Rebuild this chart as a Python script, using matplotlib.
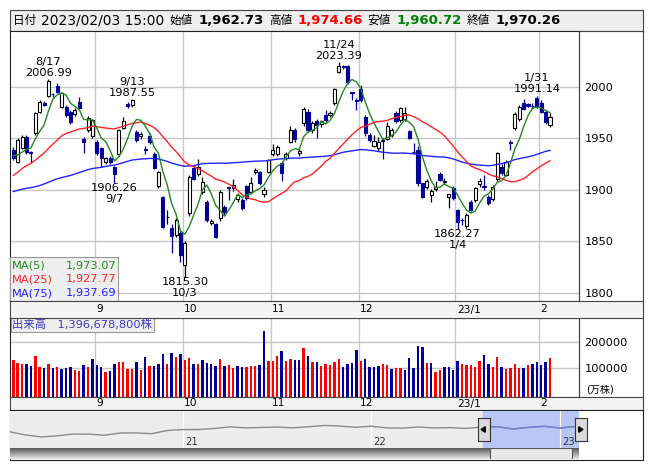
import numpy as np
import matplotlib
matplotlib.use("Agg")
import matplotlib.pyplot as plt
from matplotlib.patches import Rectangle

plt.rcParams['font.family'] = ['DejaVu Sans', 'Noto Sans CJK JP']

# ---------------- data (TOPIX daily, 2022/08/04 - 2023/02/03) ----------------
opens = [1938.5, 1927.2, 1940.1, 1950.7, 1936.8, 1954.6, 1975.6, 1984.0, 1991.0, 1993.0,
         2000.4, 1980.5, 1980.5, 1975.6, 1973.4, 1985.3, 1948.8, 1957.9, 1952.0, 1946.5,
         1940.0, 1927.2, 1930.4, 1921.7, 1934.2, 1960.1, 1983.0, 1982.0, 1956.2, 1952.0,
         1939.0, 1952.0, 1934.2, 1903.6, 1893.2, 1873.5, 1862.5, 1856.1, 1857.7, 1827.0,
         1877.1, 1921.3, 1914.9, 1898.0, 1888.4, 1867.4, 1866.7, 1872.9, 1883.5, 1902.3,
         1901.3, 1891.0, 1890.0, 1903.6, 1898.0, 1916.8, 1916.8, 1895.5, 1917.4, 1934.6,
         1934.5, 1926.2, 1931.0, 1946.5, 1957.8, 1935.2, 1964.3, 1975.6, 1957.8, 1966.8,
         1963.6, 1972.4, 1972.4, 1983.7, 2014.4, 2019.9, 2019.9, 1994.4, 1987.0, 1997.3,
         1970.4, 1953.3, 1942.8, 1940.1, 1948.5, 1949.0, 1953.0, 1974.0, 1967.5, 1968.5,
         1956.9, 1937.0, 1938.4, 1906.1, 1903.0, 1894.7, 1900.6, 1915.2, 1907.1, 1893.2,
         1902.0, 1880.3, 1870.6, 1865.1, 1888.4, 1890.0, 1905.2, 1903.0, 1893.2, 1891.0,
         1910.3, 1922.3, 1914.2, 1945.6, 1959.4, 1968.5, 1983.7, 1982.7, 1981.6, 1988.5,
         1984.3, 1975.6, 1962.73]
highs = [1941.0, 1950.0, 1953.0, 1953.0, 1938.0, 1975.0, 1987.0, 1986.0, 2006.99, 1994.0,
         2003.7, 1995.0, 1982.0, 1977.0, 1979.0, 1990.0, 1951.0, 1971.0, 1969.0, 1948.0,
         1941.0, 1932.0, 1933.0, 1923.0, 1959.0, 1970.7, 1985.0, 1987.55, 1958.0, 1956.0,
         1942.0, 1955.0, 1937.0, 1918.0, 1894.0, 1880.0, 1867.0, 1873.0, 1860.0, 1850.0,
         1914.0, 1923.0, 1929.7, 1912.0, 1890.0, 1872.0, 1868.0, 1900.0, 1885.0, 1903.0,
         1910.3, 1897.0, 1892.0, 1905.0, 1912.6, 1921.0, 1918.0, 1903.0, 1930.0, 1944.0,
         1943.0, 1928.0, 1936.5, 1961.7, 1960.0, 1940.0, 1980.0, 1978.0, 1967.0, 1969.0,
         1968.0, 1977.0, 1976.0, 1999.0, 2023.39, 2021.0, 2021.0, 1995.0, 1989.0, 2001.5,
         1972.0, 1955.0, 1953.0, 1951.0, 1950.0, 1966.0, 1960.0, 1976.0, 1980.0, 1980.4,
         1958.0, 1944.9, 1942.0, 1907.0, 1910.0, 1901.0, 1908.0, 1917.0, 1911.0, 1896.0,
         1904.0, 1881.0, 1873.0, 1877.0, 1890.0, 1903.0, 1911.6, 1914.2, 1895.0, 1905.0,
         1937.0, 1925.0, 1929.0, 1948.0, 1975.0, 1982.0, 1987.9, 1984.0, 1984.0, 1991.14,
         1987.0, 1977.0, 1974.66]
lows = [1929.0, 1926.0, 1939.0, 1935.0, 1925.5, 1953.0, 1974.0, 1981.0, 1990.0, 1990.0,
        1994.0, 1979.0, 1970.0, 1964.0, 1971.0, 1977.0, 1935.9, 1956.0, 1950.0, 1934.0,
        1922.3, 1925.0, 1925.0, 1906.26, 1933.0, 1959.0, 1979.0, 1980.0, 1945.9, 1949.0,
        1935.0, 1944.0, 1920.0, 1902.0, 1863.0, 1867.0, 1838.3, 1854.0, 1830.0, 1815.30,
        1875.0, 1909.0, 1913.0, 1896.0, 1869.0, 1866.0, 1853.0, 1870.0, 1876.0, 1890.0,
        1899.0, 1888.0, 1880.0, 1890.0, 1896.0, 1915.0, 1905.0, 1893.2, 1916.0, 1933.0,
        1933.0, 1908.7, 1929.0, 1945.0, 1946.0, 1933.0, 1962.0, 1956.0, 1955.0, 1949.7,
        1961.0, 1965.0, 1970.0, 1982.0, 2013.0, 2017.0, 2002.0, 1987.0, 1977.0, 1985.0,
        1952.0, 1945.9, 1941.0, 1938.0, 1929.7, 1948.0, 1951.0, 1965.0, 1966.0, 1967.0,
        1949.0, 1935.0, 1904.0, 1891.6, 1901.0, 1888.4, 1899.0, 1908.0, 1906.0, 1882.0,
        1890.0, 1862.27, 1866.0, 1863.0, 1879.0, 1888.0, 1903.0, 1899.7, 1885.0, 1889.0,
        1908.0, 1914.0, 1913.0, 1938.4, 1958.0, 1967.0, 1977.0, 1980.0, 1979.5, 1979.0,
        1974.0, 1964.0, 1960.72]
closes = [1930.4, 1948.2, 1951.4, 1936.8, 1935.2, 1974.0, 1985.3, 1982.5, 2005.0, 1992.5,
          1995.0, 1993.4, 1972.4, 1966.0, 1977.3, 1978.8, 1946.6, 1969.2, 1967.5, 1935.9,
          1930.4, 1930.4, 1927.2, 1915.2, 1957.8, 1966.5, 1981.4, 1986.9, 1948.1, 1953.6,
          1938.4, 1945.9, 1921.3, 1917.5, 1864.2, 1874.0, 1855.4, 1870.6, 1836.7, 1848.0,
          1912.0, 1910.0, 1922.3, 1907.8, 1870.6, 1870.0, 1854.5, 1898.0, 1878.7, 1901.3,
          1904.5, 1895.0, 1882.0, 1891.6, 1907.0, 1919.0, 1906.1, 1899.7, 1928.8, 1938.4,
          1941.6, 1915.8, 1934.5, 1957.8, 1948.8, 1937.8, 1978.2, 1957.8, 1964.9, 1962.6,
          1966.8, 1967.2, 1974.7, 1997.3, 2019.9, 2018.6, 2004.7, 1993.6, 1986.0, 1986.9,
          1954.6, 1948.1, 1947.5, 1946.5, 1947.0, 1962.0, 1958.0, 1966.5, 1978.8, 1974.0,
          1950.4, 1936.5, 1906.1, 1893.2, 1908.4, 1898.7, 1903.0, 1909.4, 1908.8, 1895.5,
          1891.6, 1869.0, 1870.4, 1875.5, 1880.3, 1901.3, 1908.4, 1902.9, 1886.8, 1903.0,
          1935.2, 1915.8, 1927.1, 1945.5, 1973.0, 1980.4, 1978.2, 1981.4, 1981.0, 1980.4,
          1975.6, 1966.0, 1970.26]
# closes of the 74 sessions before the window (2022/04/15 - 08/03), for the moving averages
prior_closes = [1867, 1860, 1873, 1895, 1901, 1898, 1871, 1876, 1858, 1877,
                1904, 1903, 1885, 1874, 1867, 1843, 1869, 1881, 1893, 1890,
                1863, 1870, 1881, 1869, 1876, 1882, 1893, 1914, 1917,
                1922, 1916, 1937, 1940, 1951, 1966, 1975, 1963, 1923, 1901,
                1888, 1893, 1840, 1843, 1856, 1858, 1860, 1875, 1890, 1899,
                1875, 1876,
                1859, 1866, 1881, 1898, 1892, 1901, 1892, 1888, 1893, 1899,
                1912, 1930, 1940, 1943, 1937, 1942, 1937, 1946, 1951, 1945,
                1938, 1923, 1929]
# volume (万株)
volume = [129000, 120000, 113000, 113000, 105000, 145000, 101000, 99000, 113000, 97000,
          101000, 93000, 97000, 101000, 90000, 85000, 109000, 101000, 134000, 109000,
          101000, 82000, 85000, 113000, 121000, 121000, 93000, 93000, 121000, 90000,
          141000, 105000, 105000, 113000, 153000, 113000, 157000, 141000, 153000, 129000,
          137000, 113000, 113000, 129000, 119000, 113000, 105000, 134000, 105000, 109000,
          97000, 105000, 101000, 101000, 105000, 105000, 109000, 246600, 126700, 126700,
          145300, 165300, 126700, 133300, 129300, 129300, 177300, 145300, 122700, 122700,
          106700, 114700, 110000, 122700, 133300, 101300, 113300, 117300, 169300, 125300,
          133300, 104000, 101300, 106700, 113300, 110000, 93300, 97300, 97300, 89300,
          137300, 97300, 185300, 180000, 117300, 117300, 81300, 89300, 104000, 101300,
          89300, 125300, 113300, 109300, 109300, 104000, 125300, 149300, 113300, 104000,
          141300, 104000, 93300, 97300, 113300, 97300, 97300, 109300, 113300, 121300,
          109300, 121300, 139667.88]
month_first = [19, 39, 59, 79, 101, 120]
month_labels = ['9', '10', '11', '12', '23/1', '2']
marks = [(8, 'high', '8/17'), (27, 'high', '9/13'), (23, 'low', '9/7'), (39, 'low', '10/3'),
         (74, 'high', '11/24'), (101, 'low', '1/4'), (119, 'high', '1/31')]
ma_last = [1973.07, 1927.77, 1937.69]
last_stamp = '2023/02/03 15:00'
# navigator: TOPIX month-end levels 2020/01 - 2023/01, plus 2023/02/03
nav_vals = [1684, 1510, 1403, 1464, 1563, 1558, 1496, 1618, 1625, 1579, 1754, 1805,
            1808, 1864, 1954, 1898, 1922, 1943, 1901, 1960, 2030, 2001, 1928, 1992,
            1895, 1886, 1946, 1899, 1912, 1870, 1940, 1963, 1835, 1929, 1985, 1892,
            1975, 1970]
nav_month = list(range(-11, 26)) + [25.1]   # months from 2021/01/01
nav_years = ['21', '22', '23']
sel_from = 19.1                               # 2022/08/04 in the same units

W, H = 653, 470
def box(x0, y0, x1, y1):
    return [x0 / W, 1 - y1 / H, (x1 - x0) / W, (y1 - y0) / H]

DOWN = '#000099'
GRID = '#c8c8c8'
FS = 8.2

n = len(closes)
idx = np.arange(n)
allc = np.array(prior_closes + closes, dtype=float)
def sma(k):
    s = np.convolve(allc, np.ones(k) / k, mode='valid')
    return s[-n:]
ma5, ma25, ma75 = sma(5), sma(25), sma(75)
prev = np.concatenate([[prior_closes[-1]], closes[:-1]])
vol_col = ['#ff0000' if c >= p else DOWN for c, p in zip(closes, prev)]

fig = plt.figure(figsize=(6.53, 4.70), dpi=100)
rend = fig.canvas.get_renderer()

# header bar
hdr = fig.add_axes(box(10, 10, 643, 31))
hdr.set_facecolor('#eeeeee')
hdr.set_xticks([]); hdr.set_yticks([])
for s in hdr.spines.values():
    s.set_color('#444444')
hy = 1 - 20.5 / H
hdr_items = [('日付', 'k', 'black'), (last_stamp, 'n', 'black'),
             ('始値', 'k', 'black'), (f'{opens[-1]:,.2f}', 'b', 'black'),
             ('高値', 'k', 'black'), (f'{highs[-1]:,.2f}', 'b', '#ff0000'),
             ('安値', 'k', 'black'), (f'{lows[-1]:,.2f}', 'b', '#008000'),
             ('終値', 'k', 'black'), (f'{closes[-1]:,.2f}', 'b', 'black')]
xp = 13
for s, kind, c in hdr_items:
    if kind == 'k':
        t = fig.text(xp / W, hy, s, fontsize=8.4, family=['Noto Sans CJK JP'], color=c, va='center')
    elif kind == 'n':
        t = fig.text(xp / W, hy, s, fontsize=9.9, color=c, va='center')
    else:
        t = fig.text(xp / W, hy, s, fontsize=9.5, fontweight='bold', color=c, va='center')
    xp = t.get_window_extent(renderer=rend).x1 + 5.2

# ---------------- price panel ----------------
ax = fig.add_axes(box(10, 31, 579, 301))
xl = (-0.75, 128.6)
ax.set_xlim(*xl)
ax.set_ylim(1792.2, 2053.8)
for b in month_first:
    ax.axvline(b - 0.5, color=GRID, lw=1, zorder=0)
for yv in [1800, 1850, 1900, 1950, 2000]:
    ax.axhline(yv, color=GRID, lw=1, zorder=0)
ax.set_xticks([])
ax.yaxis.tick_right()
ax.set_yticks([1800, 1850, 1900, 1950, 2000])
ax.tick_params(axis='y', length=0, pad=4, labelsize=FS)
for s in ax.spines.values():
    s.set_color('#222222')

o, h, l, c = map(np.array, (opens, highs, lows, closes))
up = c >= o
ax.vlines(idx[up], l[up], h[up], color='black', lw=0.9, zorder=2)
ax.vlines(idx[~up], l[~up], h[~up], color=DOWN, lw=0.9, zorder=2)
body_lo = np.minimum(o, c)
body_h = np.maximum(np.abs(c - o), 0.3)
ax.bar(idx[up], body_h[up], 0.7, bottom=body_lo[up], facecolor='white',
       edgecolor='black', lw=0.8, zorder=3)
ax.bar(idx[~up], body_h[~up], 0.7, bottom=body_lo[~up], facecolor=DOWN,
       edgecolor=DOWN, lw=0.8, zorder=3)

ax.plot(idx, ma75, color='#2222ff', lw=1, zorder=4)
ax.plot(idx, ma25, color='#ff2222', lw=1, zorder=4)
ax.plot(idx, ma5, color='#228822', lw=1, zorder=4)

for i, kind, d in marks:
    if kind == 'high':
        ax.annotate(f'{d}\n{highs[i]:.2f}', (i, highs[i]), xytext=(0, 1), textcoords='offset points',
                    ha='center', va='bottom', fontsize=FS, linespacing=1.15, zorder=6)
    else:
        ax.annotate(f'{lows[i]:.2f}\n{d}', (i, lows[i]), xytext=(0, 0), textcoords='offset points',
                    ha='center', va='top', fontsize=FS, linespacing=1.15, zorder=6)

# MA legend box
leg = fig.add_axes(box(10, 257, 118, 301))
leg.set_facecolor('#eeeeee')
leg.set_xticks([]); leg.set_yticks([])
leg.set_xlim(0, 1); leg.set_ylim(0, 1)
for s in leg.spines.values():
    s.set_color('#999999')
for k, (name, col) in enumerate([('MA(5)', '#228822'), ('MA(25)', '#ff2222'), ('MA(75)', '#2222ff')]):
    yy = 0.80 - k * 0.31
    leg.text(0.02, yy, name, color=col, fontsize=FS, va='center', ha='left')
    leg.text(0.985, yy, f'{ma_last[k]:,.2f}', color=col, fontsize=FS, va='center', ha='right')

# month label bands (full width 10..643, same day scale as the panels)
band_right = xl[0] + (643 - 10) / (579 - 10) * (xl[1] - xl[0])
def month_band(y0, y1):
    bx = fig.add_axes(box(10, y0, 643, y1))
    bx.set_xlim(xl[0], band_right); bx.set_ylim(0, 1)
    bx.set_xticks([]); bx.set_yticks([])
    bx.set_facecolor('#f4f4f4')
    for s in bx.spines.values():
        s.set_color('#444444')
    for b, lab in zip(month_first, month_labels):
        bx.text(b - 0.2, 0.5, lab, fontsize=FS - 0.5, ha='left', va='center')
    return bx

# ---------------- volume panel ----------------
vmin, vmax = -17300, 297300
vx = fig.add_axes(box(10, 318, 579, 397))
vx.set_xlim(*xl)
vx.set_ylim(vmin, vmax)
for b in month_first:
    vx.axvline(b - 0.5, color=GRID, lw=1, zorder=0)
for yv in [100000, 200000]:
    vx.axhline(yv, color=GRID, lw=1, zorder=0)
vx.bar(idx, np.array(volume) - vmin, 0.55, bottom=vmin, color=vol_col, zorder=2)
vx.set_xticks([])
vx.yaxis.tick_right()
vx.set_yticks([100000, 200000])
vx.tick_params(axis='y', length=0, pad=4, labelsize=FS)
for s in vx.spines.values():
    s.set_color('#222222')
vx.text(1.012, 0.09, '(万株)', transform=vx.transAxes, fontsize=7.2, ha='left', va='center')
vx.text(0.004, 0.985, f'出来高　{int(round(volume[-1] * 10000)):,}株', transform=vx.transAxes,
        fontsize=FS, color='#3b3bb5', ha='left', va='top',
        bbox=dict(boxstyle='square,pad=0.15', fc='#eeeeee', ec='#999999', lw=0.8), zorder=6)

# right frame around label columns
frame = fig.add_axes(box(579, 31, 643, 410))
frame.set_xticks([]); frame.set_yticks([])
frame.patch.set_alpha(0)
for s in frame.spines.values():
    s.set_color('#444444')

month_band(301, 318)
month_band(397, 410)

# ---------------- navigator ----------------
nv = fig.add_axes(box(10, 410, 643, 460))
nv.set_xticks([]); nv.set_yticks([])
nv.set_facecolor('white')
for s in nv.spines.values():
    s.set_color('#222222')
nl = fig.add_axes(box(10, 411, 579, 448))
nl.set_xticks([]); nl.set_yticks([])
for s in nl.spines.values():
    s.set_visible(False)
nl.set_facecolor('#ececec')
nl.set_xlim(-11.0, 25.22)
nl.set_ylim(800, 2820)
nl.axvspan(sel_from, 25.22, color='#b8c6f5', zorder=0)
nm = np.array(nav_month)
nl.plot(nm, nav_vals, color='#8a8a8a', lw=1, zorder=2)
sel = nm >= sel_from - 0.9
nl.plot(nm[sel], np.array(nav_vals)[sel], color='#6f7fd6', lw=1, zorder=3)
for k, lab in enumerate(nav_years):
    nl.axvline(12 * k, color='white', lw=0.8, zorder=1)
    nl.text(12 * k + 0.15, 870, lab, fontsize=7.2, ha='left', va='bottom', color='#333333')
# scrollbar
sb = fig.add_axes(box(10, 448, 579, 459))
sb.set_xlim(0, 1); sb.set_ylim(0, 1)
sb.axis('off')
grad = np.linspace(0.35, 0.9, 20).reshape(-1, 1)
sb.imshow(grad, extent=(0, 1, 0, 1), aspect='auto', cmap='gray', vmin=0, vmax=1)
sb.add_patch(Rectangle((0.8436, 0.0), 0.144, 1, facecolor='#e8e8e8', edgecolor='#555555', lw=0.8))
# handles
for hx, side in [(483.5, 'l'), (580.5, 'r')]:
    hb = fig.add_axes(box(hx - 6, 418, hx + 6, 441))
    hb.set_xticks([]); hb.set_yticks([])
    hb.set_facecolor('#d9d9d9')
    for s in hb.spines.values():
        s.set_color('#333333')
    hb.set_xlim(0, 1); hb.set_ylim(0, 1)
    tri = [[0.65, 0.38], [0.65, 0.62], [0.3, 0.5]] if side == 'l' else [[0.35, 0.38], [0.35, 0.62], [0.7, 0.5]]
    hb.add_patch(plt.Polygon(tri, color='black'))

fig.savefig('out.png', dpi=100)
